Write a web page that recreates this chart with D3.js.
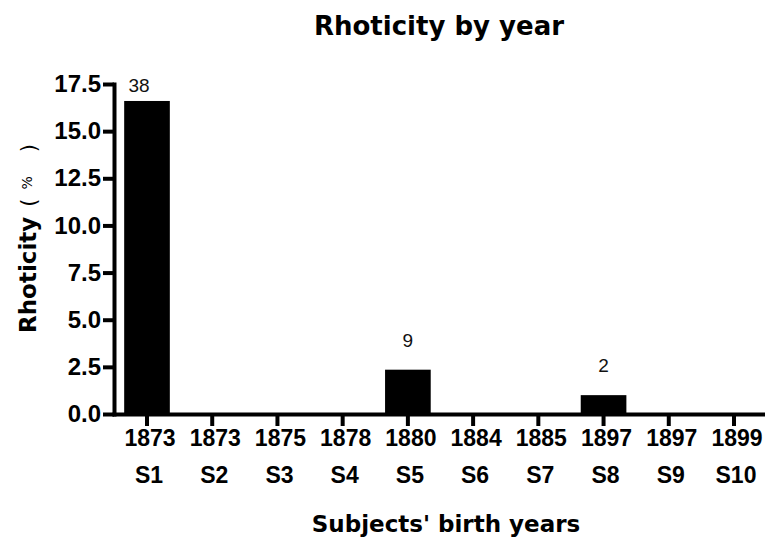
<!DOCTYPE html>
<html>
<head>
<meta charset="utf-8">
<script src="https://cdn.jsdelivr.net/npm/d3@7"></script>
<style>
  body { margin: 0; background: #fff; }
  svg { display: block; }
</style>
</head>
<body>
<svg id="chart" width="765" height="540"></svg>
<script>
const years = ['1873', '1873', '1875', '1878', '1880', '1884', '1885', '1897', '1897', '1899'];
const subjects = ['S1', 'S2', 'S3', 'S4', 'S5', 'S6', 'S7', 'S8', 'S9', 'S10'];
const rhoticity = [16.6, 0, 0, 0, 2.35, 0, 0, 1.0, 0, 0];
const tokenCounts = ['38', '', '', '', '9', '', '', '2', '', ''];
const yTicks = [0, 2.5, 5, 7.5, 10, 12.5, 15, 17.5];

const axisWidth = 4;
const boldFont = '"Liberation Sans", Arial, sans-serif';
const titleFont = '"DejaVu Sans", Verdana, sans-serif';

const svg = d3.select('#chart');

const x = d3.scaleBand()
  .domain(subjects)
  .range([114, 767])
  .paddingInner(0.3)
  .paddingOuter(0.156);

const y = d3.scaleLinear()
  .domain([0, 17.5])
  .range([414, 84]);

// bars
svg.append('g')
  .selectAll('rect')
  .data(rhoticity)
  .enter()
  .append('rect')
  .attr('x', (d, i) => x(subjects[i]))
  .attr('y', d => y(d))
  .attr('width', x.bandwidth())
  .attr('height', d => y(0) - y(d))
  .attr('fill', '#000');

// token counts above bars (first one sits against the top of the axis)
svg.append('g')
  .selectAll('text')
  .data(rhoticity)
  .enter()
  .append('text')
  .attr('x', (d, i) => x(subjects[i]) + x.bandwidth() / 2 - (i === 0 ? 8 : 0))
  .attr('y', d => Math.max(y(d) - 30, y(17.5) + 1) + 7)
  .attr('text-anchor', 'middle')
  .attr('font-family', boldFont)
  .attr('font-size', 19)
  .attr('fill', '#111')
  .text((d, i) => tokenCounts[i]);

// y axis
const yAxis = svg.append('g')
  .attr('transform', 'translate(114,0)')
  .call(d3.axisLeft(y)
    .tickValues(yTicks)
    .tickFormat(d3.format('.1f'))
    .tickSize(11)
    .tickSizeOuter(0)
    .tickPadding(2));

// x axis
const xAxis = svg.append('g')
  .attr('transform', 'translate(0,414)')
  .call(d3.axisBottom(x)
    .tickSize(12)
    .tickSizeOuter(0)
    .tickFormat(''));

[yAxis, xAxis].forEach((g) => {
  g.select('.domain')
    .attr('stroke', '#000')
    .attr('stroke-width', axisWidth)
    .attr('stroke-linecap', 'square');
  g.selectAll('.tick line')
    .attr('stroke', '#000')
    .attr('stroke-width', axisWidth);
});

yAxis.selectAll('.tick text')
  .attr('font-family', boldFont)
  .attr('font-weight', 'bold')
  .attr('font-size', 24)
  .attr('fill', '#000');

// two line x labels: year, then subject
const xLabels = svg.append('g')
  .selectAll('text')
  .data(subjects)
  .enter()
  .append('text')
  .attr('text-anchor', 'middle')
  .attr('font-family', boldFont)
  .attr('font-weight', 'bold')
  .attr('font-size', 23)
  .attr('fill', '#000');

xLabels.append('tspan')
  .attr('x', d => x(d) + x.bandwidth() / 2 + 3)
  .attr('y', 446)
  .text((d, i) => years[i]);

xLabels.append('tspan')
  .attr('x', d => x(d) + x.bandwidth() / 2 + 2)
  .attr('y', 483)
  .text(d => d);

// titles
svg.append('text')
  .attr('x', 439)
  .attr('y', 35)
  .attr('text-anchor', 'middle')
  .attr('font-family', titleFont)
  .attr('font-weight', 'bold')
  .attr('font-size', 26)
  .text('Rhoticity by year');

svg.append('text')
  .attr('x', 446)
  .attr('y', 532)
  .attr('text-anchor', 'middle')
  .attr('font-family', titleFont)
  .attr('font-weight', 'bold')
  .attr('font-size', 23)
  .text('Subjects\' birth years');

const yTitle = svg.append('text')
  .attr('transform', 'translate(36,333) rotate(-90)')
  .attr('font-family', titleFont)
  .attr('font-weight', 'bold')
  .attr('font-size', 23);

yTitle.append('tspan').text('Rhoticity');
yTitle.append('tspan')
  .attr('font-weight', 'normal')
  .attr('font-size', 21)
  .attr('dx', 10)
  .text('(');
yTitle.append('tspan')
  .attr('font-weight', 'normal')
  .attr('font-size', 14)
  .attr('dx', 9)
  .attr('dy', -4)
  .text('%');
yTitle.append('tspan')
  .attr('font-weight', 'normal')
  .attr('font-size', 21)
  .attr('dx', 24)
  .attr('dy', 4)
  .text(')');
</script>
</body>
</html>
